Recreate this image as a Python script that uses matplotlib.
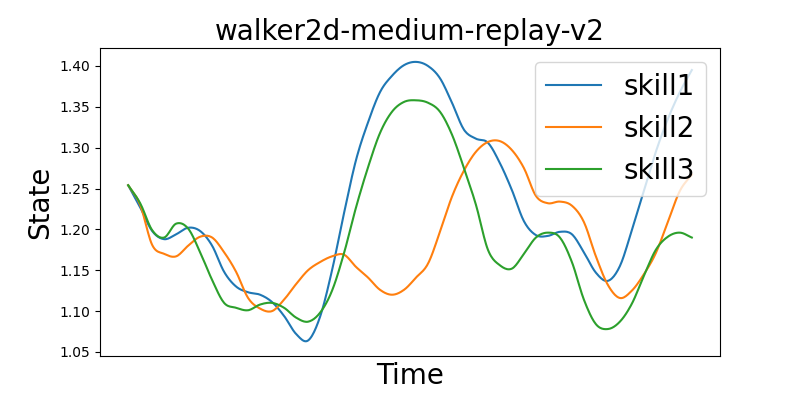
import numpy as np
import matplotlib
matplotlib.use("Agg")
import matplotlib.pyplot as plt

time = np.arange(48)

skill1 = [1.254, 1.227, 1.198, 1.188, 1.194, 1.202, 1.198, 1.180, 1.148, 1.130,
          1.123, 1.120, 1.111, 1.094, 1.072, 1.064, 1.093, 1.150, 1.220, 1.285,
          1.331, 1.368, 1.388, 1.401, 1.405, 1.400, 1.385, 1.355, 1.322, 1.311,
          1.306, 1.281, 1.248, 1.210, 1.193, 1.192, 1.197, 1.194, 1.172, 1.147,
          1.137, 1.155, 1.199, 1.247, 1.295, 1.335, 1.368, 1.395]

skill2 = [1.254, 1.230, 1.181, 1.170, 1.167, 1.180, 1.191, 1.190, 1.172, 1.148,
          1.116, 1.103, 1.100, 1.114, 1.133, 1.150, 1.160, 1.167, 1.169, 1.154,
          1.141, 1.126, 1.120, 1.126, 1.141, 1.158, 1.197, 1.240, 1.272, 1.295,
          1.307, 1.308, 1.297, 1.275, 1.241, 1.232, 1.234, 1.229, 1.209, 1.167,
          1.132, 1.116, 1.125, 1.145, 1.171, 1.209, 1.247, 1.267]

skill3 = [1.254, 1.232, 1.199, 1.190, 1.207, 1.201, 1.172, 1.138, 1.110, 1.104,
          1.101, 1.108, 1.110, 1.104, 1.092, 1.087, 1.098, 1.125, 1.171, 1.227,
          1.276, 1.318, 1.344, 1.356, 1.358, 1.355, 1.344, 1.316, 1.275, 1.230,
          1.175, 1.156, 1.152, 1.170, 1.190, 1.196, 1.190, 1.160, 1.114, 1.084,
          1.078, 1.087, 1.109, 1.143, 1.175, 1.191, 1.196, 1.190]

labels = ["skill1", "skill2", "skill3"]


def smooth_curve(x, y, sub=12):
    """Catmull-Rom curve through the data points (for drawing only)."""
    x = np.asarray(x, float)
    y = np.asarray(y, float)
    xp = np.concatenate([[2 * x[0] - x[1]], x, [2 * x[-1] - x[-2]]])
    yp = np.concatenate([[2 * y[0] - y[1]], y, [2 * y[-1] - y[-2]]])
    xs, ys = [], []
    t = np.linspace(0, 1, sub, endpoint=False)
    for i in range(1, len(xp) - 2):
        for arr, out in ((xp, xs), (yp, ys)):
            p0, p1, p2, p3 = arr[i - 1], arr[i], arr[i + 1], arr[i + 2]
            out.append(0.5 * ((2 * p1) + (-p0 + p2) * t
                              + (2 * p0 - 5 * p1 + 4 * p2 - p3) * t ** 2
                              + (-p0 + 3 * p1 - 3 * p2 + p3) * t ** 3))
    xs.append([x[-1]])
    ys.append([y[-1]])
    return np.concatenate(xs), np.concatenate(ys)


fig, ax = plt.subplots(figsize=(8, 4), dpi=100)
for series, lab in zip([skill1, skill2, skill3], labels):
    sx, sy = smooth_curve(time, series)
    ax.plot(sx, sy, label=lab, linewidth=1.5)

ax.set_ylim(1.045, 1.422)
ax.set_xticks([])
ax.set_yticks([1.05, 1.10, 1.15, 1.20, 1.25, 1.30, 1.35, 1.40])
ax.set_title("walker2d-medium-replay-v2", fontsize=20)
ax.set_xlabel("Time", fontsize=20)
ax.set_ylabel("State", fontsize=20)
ax.legend(loc="upper right", fontsize=20)

fig.savefig("out.png", dpi=100)
